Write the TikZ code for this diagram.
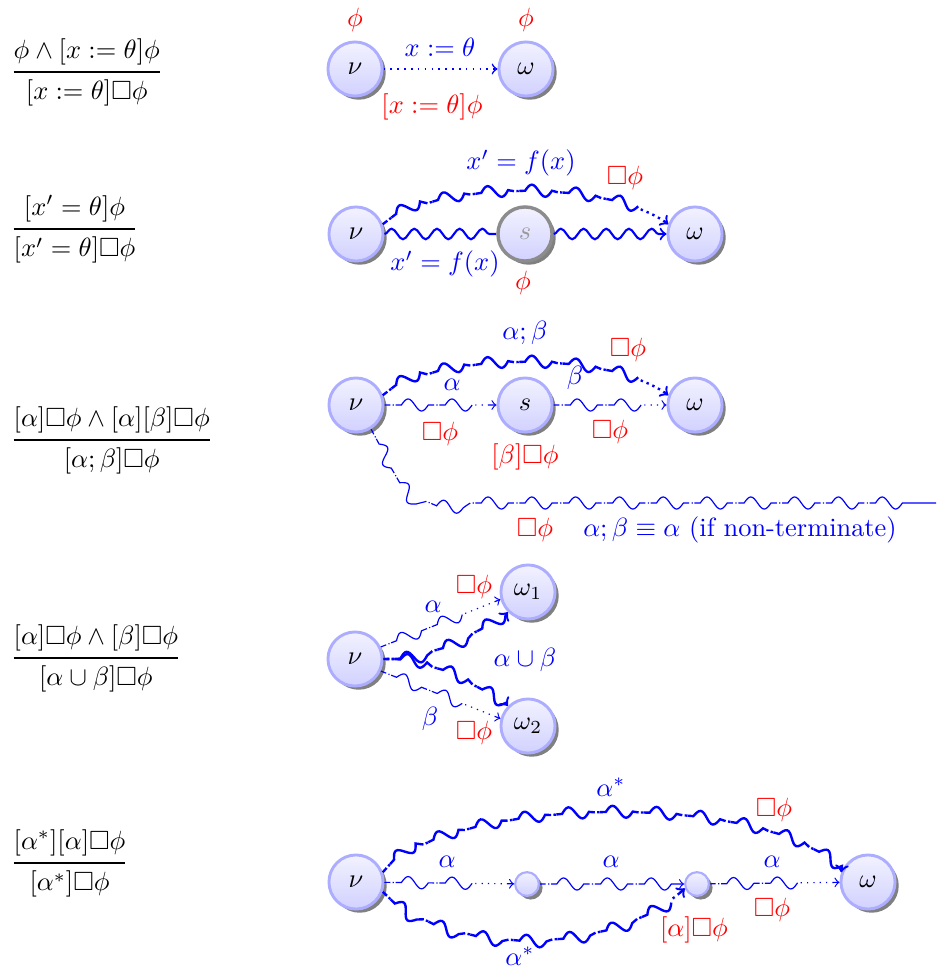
\documentclass[tikz,border=0pt]{standalone}
\usepackage{amsmath,amssymb}
\usetikzlibrary{decorations,decorations.pathmorphing,shadows}

\pgfdeclaredecoration{wavydash}{dd}{
  \state{dd}[width=6.4pt, next state=wv, switch if less than=16.6pt to dots]{
    \pgfpathlineto{\pgfpoint{2.2pt}{0pt}}
    \pgfpathmoveto{\pgfpoint{3.1pt}{0pt}}
    \pgfpathlineto{\pgfpoint{3.1pt+\pgflinewidth}{0pt}}
    \pgfpathmoveto{\pgfpoint{4.2pt}{0pt}}
    \pgfpathlineto{\pgfpoint{6.4pt}{0pt}}
  }
  \state{wv}[width=10.2pt, next state=dd, switch if less than=10.2pt to dots]{
    \pgfpathsine{\pgfpoint{2.55pt}{2.3pt}}
    \pgfpathcosine{\pgfpoint{2.55pt}{-2.3pt}}
    \pgfpathsine{\pgfpoint{2.55pt}{-2.3pt}}
    \pgfpathcosine{\pgfpoint{2.55pt}{2.3pt}}
  }
  \state{dots}[width=2.4pt, switch if less than=2.4pt to final]{
    \pgfpathmoveto{\pgfpoint{1.2pt}{0pt}}
    \pgfpathlineto{\pgfpoint{1.2pt+\pgflinewidth}{0pt}}
  }
  \state{final}{\pgfpathlineto{\pgfpointdecoratedpathlast}}
}

\pgfdeclaredecoration{wavydashplain}{dd}{
  \state{dd}[width=6.4pt, next state=wv, switch if less than=16.6pt to final]{
    \pgfpathlineto{\pgfpoint{2.2pt}{0pt}}
    \pgfpathmoveto{\pgfpoint{3.1pt}{0pt}}
    \pgfpathlineto{\pgfpoint{3.1pt+\pgflinewidth}{0pt}}
    \pgfpathmoveto{\pgfpoint{4.2pt}{0pt}}
    \pgfpathlineto{\pgfpoint{6.4pt}{0pt}}
  }
  \state{wv}[width=10.2pt, next state=dd, switch if less than=10.2pt to final]{
    \pgfpathsine{\pgfpoint{2.55pt}{2.3pt}}
    \pgfpathcosine{\pgfpoint{2.55pt}{-2.3pt}}
    \pgfpathsine{\pgfpoint{2.55pt}{-2.3pt}}
    \pgfpathcosine{\pgfpoint{2.55pt}{2.3pt}}
  }
  \state{final}{\pgfpathlineto{\pgfpointdecoratedpathlast}}
}

\tikzset{
  ball/.style={circle, inner sep=0pt, minimum size=20.5pt, draw=blue!32, line width=1.1pt,
    top color=blue!5, middle color=blue!9, bottom color=blue!18,
    drop shadow={shadow xshift=1.4pt, shadow yshift=-1.4pt, fill=black!50, opacity=1}},
  grayball/.style={ball, draw=black!45, line width=1.3pt, text=black!40},
  smallball/.style={ball, minimum size=9pt, line width=0.8pt,
    drop shadow={shadow xshift=1pt, shadow yshift=-1pt, fill=black!50, opacity=1}},
  lb/.style={text=blue, inner sep=1pt},
  lr/.style={text=red, inner sep=1pt},
  rule/.style={anchor=west, inner sep=0pt},
  wdthin/.style={blue, line width=0.45pt, decorate, decoration=wavydash},
  wdthick/.style={blue, line width=0.9pt, decorate, decoration=wavydash},
  wdplain/.style={blue, line width=0.45pt, decorate, decoration=wavydashplain},
  snk/.style={blue, line width=0.8pt, decorate,
    decoration={snake, amplitude=2pt, segment length=8.6pt, post length=2pt}},
}

\begin{document}
\begin{tikzpicture}[x=0.379pt, y=-0.379pt, >=to]
\useasboundingbox (0,0) rectangle (936,972);

% ---------- rules on the left ----------
\node[rule] (r1) at (10,72) {$\genfrac{}{}{0.8pt}{0}{\phi\land[x:=\theta]\phi}{[x:=\theta]\Box\phi}$};
\node[rule] (r2) at (10,229) {$\genfrac{}{}{0.8pt}{0}{[x'=\theta]\phi}{[x'=\theta]\Box\phi}$};
\node[rule] (r3) at (10,440) {$\genfrac{}{}{0.8pt}{0}{[\alpha]\Box\phi\land[\alpha][\beta]\Box\phi}{[\alpha;\beta]\Box\phi}$};
\node[rule] (r4) at (10,658) {$\genfrac{}{}{0.8pt}{0}{[\alpha]\Box\phi\land[\beta]\Box\phi}{[\alpha\cup\beta]\Box\phi}$};
\node[rule] (r5) at (10,863) {$\genfrac{}{}{0.8pt}{0}{[\alpha^*][\alpha]\Box\phi}{[\alpha^*]\Box\phi}$};

% ---------- row 1 ----------
\node[ball] (n1) at (355,69) {$\nu$};
\node[ball] (w1) at (526,69) {$\omega$};
\draw[blue, semithick, dotted, ->] (n1) -- (w1);
\node[lr] (p1a) at (355,20) {$\phi$};
\node[lr] (p1b) at (526,20) {$\phi$};
\node[lb] (a1) at (440,47) {$x:=\theta$};
\node[lr] (b1) at (432,107) {$[x:=\theta]\phi$};

% ---------- row 2 ----------
\node[ball] (n2) at (356,234) {$\nu$};
\node[grayball] (s2) at (525,234) {$s$};
\node[ball] (w2) at (695,234) {$\omega$};
\draw[snk] (n2) -- (s2);
\draw[snk, ->] (s2) -- (w2);
\draw[wdthick, ->] (n2.20) .. controls (440,180) and (610,180) .. (w2.160);
\node[lb] (a2) at (521,163) {$x'=f(x)$};
\node[lr] (b2) at (625,178) {$\Box\phi$};
\node[lb] (c2) at (445,264) {$x'=f(x)$};
\node[lr] (d2) at (523,283) {$\phi$};

% ---------- row 3 ----------
\node[ball] (n3) at (356,405) {$\nu$};
\node[ball] (s3) at (525,405) {$s$};
\node[ball] (w3) at (695,405) {$\omega$};
\draw[wdthin, ->] (n3) -- (s3);
\draw[wdthin, ->] (s3) -- (w3);
\draw[wdthick, ->] (n3.20) .. controls (440,351) and (610,351) .. (w3.160);
\coordinate (e3) at (936,503);
\draw[wdplain] (n3.-58) .. controls (392,468) and (402,502) .. (440,503) -- (e3);
\node[lb] (a3) at (525,333) {$\alpha;\beta$};
\node[lr] (b3) at (628,350) {$\Box\phi$};
\node[lb] (c3) at (452,385) {$\alpha$};
\node[lb] (d3) at (575,378) {$\beta$};
\node[lr] (f3) at (440,434) {$\Box\phi$};
\node[lr] (g3) at (610,432) {$\Box\phi$};
\node[lr] (h3) at (525,457) {$[\beta]\Box\phi$};
\node[lr] (i3) at (535,530) {$\Box\phi$};
\node[lb] (j3) at (740,530) {$\alpha;\beta\equiv\alpha$ (if non-terminate)};

% ---------- row 4 ----------
\node[ball] (n4) at (355,659) {$\nu$};
\node[ball] (w41) at (528,592) {$\omega_1$};
\node[ball] (w42) at (528,726) {$\omega_2$};
\draw[wdthin, ->] (n4.25) -- (w41.195);
\draw[wdthin, ->] (n4.-25) -- (w42.165);
\draw[wdthick, ->] (n4.east) .. controls (430,658) and (465,640) .. (w41.225);
\draw[wdthick, ->] (n4.east) .. controls (430,660) and (465,678) .. (w42.135);
\node[lr] (a4) at (474,587) {$\Box\phi$};
\node[lb] (b4) at (433,607) {$\alpha$};
\node[lb] (c4) at (525,660) {$\alpha\cup\beta$};
\node[lb] (d4) at (430,719) {$\beta$};
\node[lr] (e4) at (474,733) {$\Box\phi$};

% ---------- row 5 ----------
\node[ball] (n5) at (356,882) {$\nu$};
\node[smallball] (s51) at (527,884) {};
\node[smallball] (s52) at (697,884) {};
\node[ball] (w5) at (868,882) {$\omega$};
\draw[wdthin, ->] (n5) -- (s51);
\draw[wdthin, ->] (s51) -- (s52);
\draw[wdthin, ->] (s52) -- (w5);
\draw[wdthick, ->] (n5.20) .. controls (455,792) and (780,792) .. (w5.160);
\draw[wdthick, ->] (n5.-20) .. controls (450,957) and (610,957) .. (s52.200);
\node[lb] (a5) at (447,862) {$\alpha$};
\node[lb] (b5) at (611,862) {$\alpha$};
\node[lb] (c5) at (772,862) {$\alpha$};
\node[lb] (d5) at (611,787) {$\alpha^*$};
\node[lr] (f5) at (774,810) {$\Box\phi$};
\node[lr] (g5) at (772,910) {$\Box\phi$};
\node[lr] (h5) at (694,930) {$[\alpha]\Box\phi$};
\node[lb] (i5) at (520,956) {$\alpha^*$};
\end{tikzpicture}
\end{document}
